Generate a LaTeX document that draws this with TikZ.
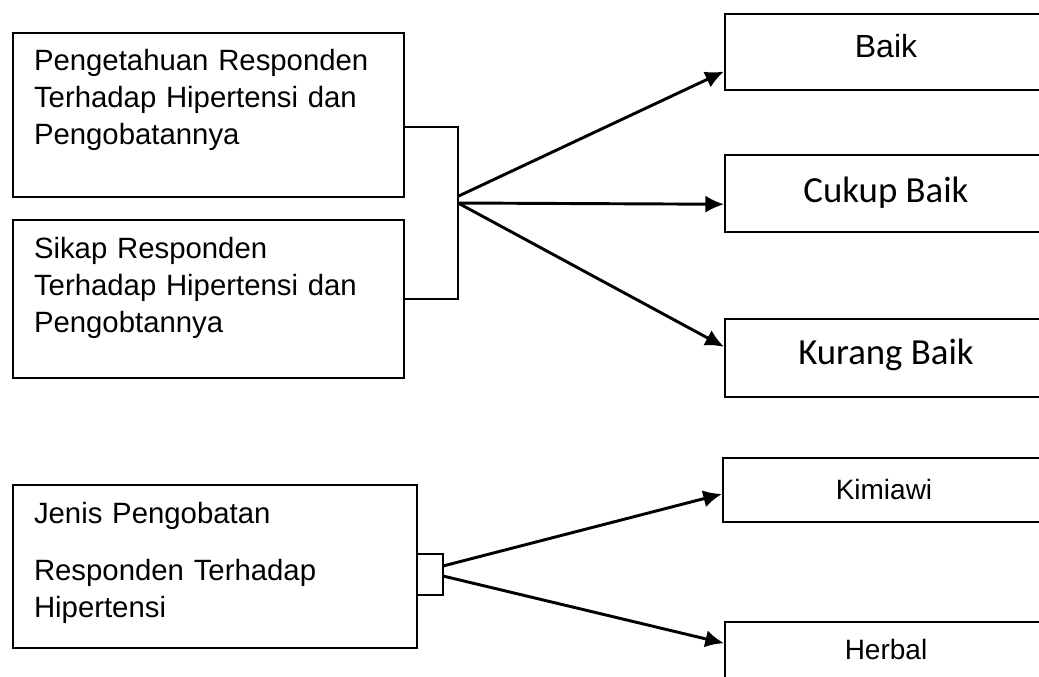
\documentclass[tikz,border=0pt]{standalone}
\usepackage{fontspec}
\setmainfont{Liberation Sans}
\newfontfamily\calibri{Carlito}
\usetikzlibrary{arrows.meta,calc}

\tikzset{
    box/.style={draw, line width=1.5pt, inner ysep=0pt, anchor=north west},
    leftbox/.style={box, inner xsep=15.75pt, align=left, font=\fontsize{22}{27.75}\selectfont},
    rightbox/.style={box, inner xsep=0pt, minimum width=241.5pt, align=center},
    arrowline/.style={-{Latex[length=14pt,width=13pt]}, line width=2.2pt}
}

\begin{document}
\begin{tikzpicture}[x=0.75pt, y=-0.75pt]
    \useasboundingbox (0,0) rectangle (1039,676);
    \clip (0,0) rectangle (1039,676);

    \node[leftbox, text width=261.75pt, text height=27.75pt, text depth=95.25pt] (peng) at (12,32)
        {Pengetahuan Responden\\Terhadap Hipertensi dan\\Pengobatannya};
    \node[leftbox, text width=261.75pt, text height=28.5pt, text depth=90pt] (sikap) at (12,219)
        {Sikap Responden\\Terhadap Hipertensi dan\\Pengobtannya};
    \node[leftbox, text width=271.5pt, text height=28.5pt, text depth=93.75pt] (jenis) at (12,484)
        {Jenis Pengobatan\\[15pt]Responden Terhadap\\Hipertensi};

    \node[rightbox, font=\fontsize{24}{28}\selectfont, text height=32.25pt, text depth=24.75pt] (baik) at (724,13) {Baik};
    \node[rightbox, font=\calibri\fontsize{27.6}{32}\selectfont, text height=35.25pt, text depth=22.5pt] (cukup) at (724,154) {Cukup Baik};
    \node[rightbox, font=\calibri\fontsize{27.6}{32}\selectfont, text height=33.75pt, text depth=24.75pt] (kurang) at (724,318) {Kurang Baik};
    \node[rightbox, font=\fontsize{21}{25}\selectfont, text height=30.75pt, text depth=17.25pt] (kimiawi) at (722,457) {Kimiawi};
    \node[rightbox, font=\fontsize{21}{25}\selectfont, text height=27.75pt, text depth=37.5pt] (herbal) at (724,621) {Herbal};

    \coordinate (fork) at (458,203);
    \draw[line width=1.5pt] ($(peng.north east)!0.573!(peng.south east)$) -| (fork |- sikap.east) -- (sikap.east);
    \draw[arrowline] ([yshift=5pt]fork) -- ($(baik.north west)!0.75!(baik.south west)$);
    \draw[arrowline] (fork) -- ($(cukup.north west)!0.636!(cukup.south west)$);
    \draw[arrowline] (fork) -- ($(kurang.north west)!0.36!(kurang.south west)$);

    \coordinate (jfork) at (443,571);
    \draw[line width=1.5pt] ($(jenis.north east)!0.423!(jenis.south east)$) -| (jfork) |- ($(jenis.north east)!0.675!(jenis.south east)$);
    \draw[arrowline] ([yshift=3.75pt]jfork) -- ($(kimiawi.north west)!0.56!(kimiawi.south west)$);
    \draw[arrowline] ([yshift=-3.75pt]jfork) -- ($(herbal.north west)!0.25!(herbal.south west)$); % herbal runs off the page

\end{tikzpicture}
\end{document}
